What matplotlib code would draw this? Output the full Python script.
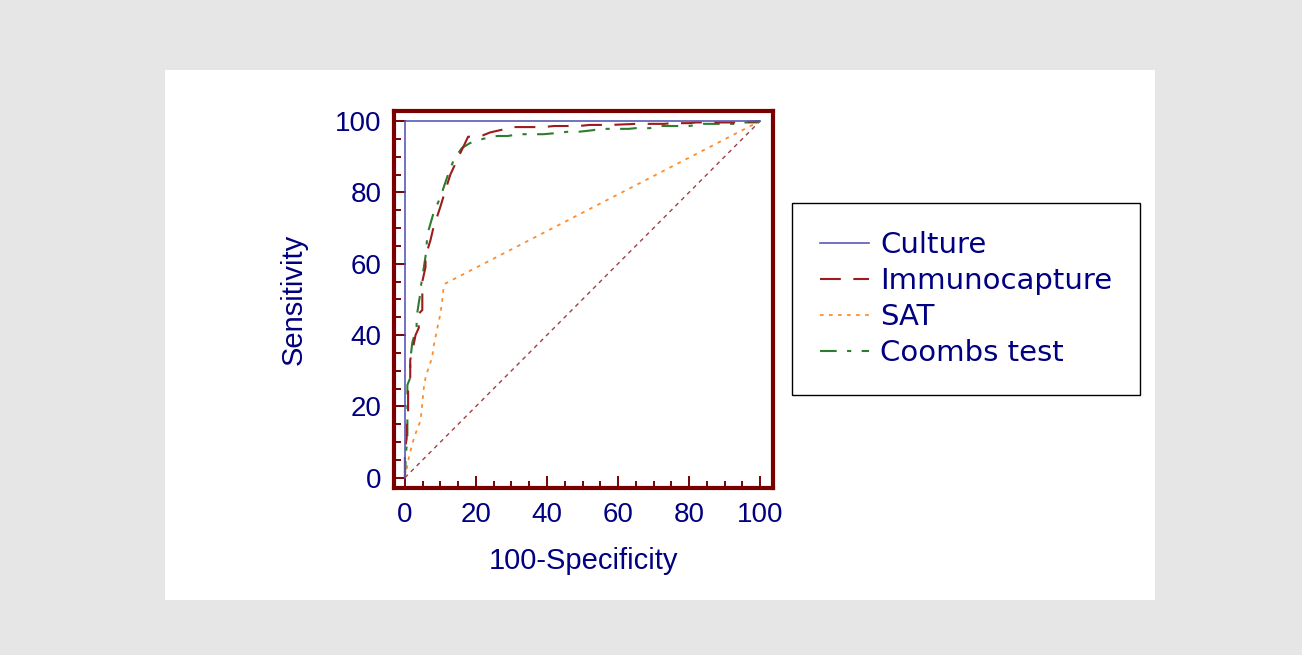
import matplotlib.pyplot as plt
from matplotlib.patches import Rectangle
from matplotlib.ticker import MultipleLocator

# ROC curves (x = 100-Specificity, y = Sensitivity)
culture_x = [0, 0, 100]
culture_y = [0, 100, 100]

immuno_x = [0, 0, 0.5, 0.5, 0.9, 0.9, 1.5, 1.5, 2.2, 3.0, 3.9, 3.9, 4.9, 4.9,
            5.8, 5.8, 7.2, 8.0, 10.0, 11.4, 12.8, 15.6, 17.8, 18.5, 22, 24,
            28, 30, 39, 42, 49, 52, 58, 65, 73, 75, 80, 82, 93, 100]
immuno_y = [0, 8, 11, 15, 18, 26, 28, 33, 36, 40, 42, 46, 47, 55,
            59, 62, 66.6, 70, 76, 80.6, 85, 91, 95.6, 95.6, 96, 96.8,
            97.7, 98.3, 98.3, 98.6, 98.6, 98.9, 98.9, 99.2, 99.2, 99.4, 99.4, 99.6, 99.6, 100]

sat_x = [0, 0.3, 1.1, 2.1, 3, 4.4, 4.9, 5.3, 5.8, 6.7, 7.7, 8, 9, 10, 10.5, 10.9, 11.5, 100]
sat_y = [0, 1.4, 5.6, 9.6, 12.4, 16, 20.8, 25, 28, 31, 33.7, 36.5, 41.3, 46, 49.7, 53.4, 54.5, 100]

coombs_x = [0, 0.3, 0.7, 0.7, 1.5, 1.5, 2.1, 3.3, 3.3, 3.9, 4.4, 4.4, 5.8, 6.4, 8, 10,
            11.8, 13.7, 16, 18.3, 22, 26, 29, 32, 39, 42.5, 46, 49, 51, 56, 59, 63,
            65, 69, 72, 77, 80, 84, 93, 94, 99, 100]
coombs_y = [0, 7, 11, 26, 28, 33, 38, 42, 45, 49, 52, 53, 62, 68.5, 74, 78.7,
            84, 89, 92.4, 93.8, 95, 95.8, 95.8, 96.3, 96.3, 96.6, 97, 97, 97.2, 97.8, 97.8, 97.8,
            98, 98, 98.6, 98.6, 98.6, 99.2, 99.2, 99.6, 99.6, 100]

chance_x = [0, 100]
chance_y = [0, 100]

ticks = [0, 20, 40, 60, 80, 100]

navy = '#000080'
maroon = '#7a0000'

plt.rcParams['font.family'] = ['Liberation Sans', 'DejaVu Sans']

fig = plt.figure(figsize=(13.02, 6.55), dpi=100)
fig.patch.set_facecolor('#e6e6e6')
# white panel behind the chart
fig.patches.append(Rectangle((165 / 1302, 1 - 600 / 655), 990 / 1302, 530 / 655,
                             transform=fig.transFigure, facecolor='white',
                             edgecolor='none', zorder=-5))

ax = fig.add_axes([0.3028, 0.2554, 0.2911, 0.5751])
ax.set_facecolor('white')

ax.plot(chance_x, chance_y, color='#a04040', lw=1.0, dashes=(3, 3), zorder=2)
ax.plot(sat_x, sat_y, color='#ff8c2a', lw=1.3, dashes=(2, 3), label='SAT', zorder=3)
ax.plot(coombs_x, coombs_y, color='#2e7d2e', lw=1.5, dashes=(8, 5, 2, 5), label='Coombs test', zorder=3)
ax.plot(immuno_x, immuno_y, color='#9b1c1c', lw=1.5, dashes=(10, 6), label='Immunocapture', zorder=4)
ax.plot(culture_x, culture_y, color='#5a5ab8', lw=1.2, label='Culture', zorder=5)

ax.set_xlim(-3.0, 103.7)
ax.set_ylim(-2.8, 102.8)
ax.set_xticks(ticks)
ax.set_yticks(ticks)
ax.xaxis.set_minor_locator(MultipleLocator(5))
ax.yaxis.set_minor_locator(MultipleLocator(5))

for s in ax.spines.values():
    s.set_color(maroon)
    s.set_linewidth(3.0)

ax.tick_params(which='both', direction='in', color=maroon, width=1.4,
               top=False, right=False, labelcolor=navy, labelsize=20)
ax.tick_params(axis='x', pad=10)
ax.tick_params(axis='y', pad=9)
ax.tick_params(which='major', length=8.5)
ax.tick_params(which='minor', length=5)

ax.set_xlabel('100-Specificity', color=navy, fontsize=21, labelpad=14)
ax.set_ylabel('Sensitivity', color=navy, fontsize=21, labelpad=20)

handles, labels = ax.get_legend_handles_labels()
order = ['Culture', 'Immunocapture', 'SAT', 'Coombs test']
hl = dict(zip(labels, handles))
leg = fig.legend([hl[k] for k in order], order, loc='upper left',
                 bbox_to_anchor=(792 / 1302, 1 - 203 / 655), borderaxespad=0,
                 prop={'family': 'DejaVu Sans', 'size': 21}, labelcolor=navy,
                 frameon=True, fancybox=False,
                 edgecolor='black', framealpha=1, borderpad=0.95,
                 handlelength=1.7, handletextpad=0.38, labelspacing=0.28)
leg.get_frame().set_linewidth(1.0)

fig.savefig('out.png', dpi=100, facecolor=fig.get_facecolor())
